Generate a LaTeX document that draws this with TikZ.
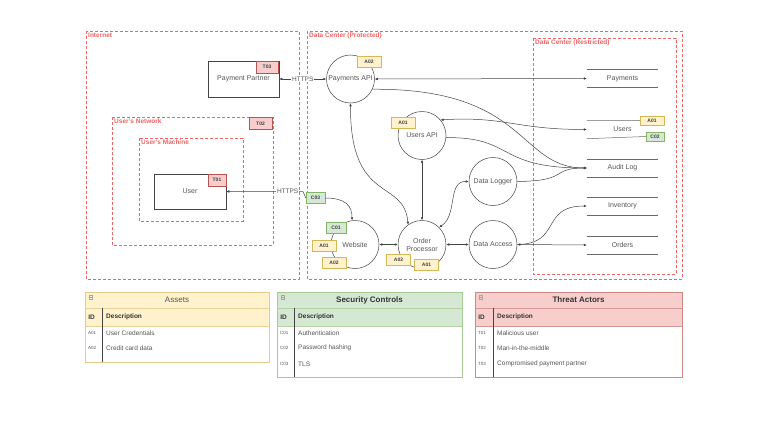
\documentclass[tikz,border=0pt]{standalone}
\usepackage{fontspec}
\setmainfont{Liberation Sans}
\usetikzlibrary{arrows.meta,shadows}
\definecolor{bnd}{HTML}{F06464}
\definecolor{ln}{HTML}{444444}
\definecolor{txt}{HTML}{555555}
\definecolor{yf}{HTML}{FFF2CC}\definecolor{yd}{HTML}{D6B656}
\definecolor{gf}{HTML}{D5E8D4}\definecolor{gd}{HTML}{82B366}
\definecolor{rf}{HTML}{F8CECC}\definecolor{rd}{HTML}{B85450}
\begin{document}
\begin{tikzpicture}[x=1pt,y=-1pt,
 boundary/.style={draw=bnd, dash pattern=on 3pt off 2pt, line width=0.7pt},
 blabel/.style={text=bnd, font=\bfseries\fontsize{6.5}{7}\selectfont, anchor=north west, inner sep=1pt},
 proc/.style={circle, draw=ln, fill=white, line width=0.5pt, minimum size=48pt, inner sep=0pt, text=txt, font=\fontsize{7}{8}\selectfont, align=center},
 extbox/.style={rectangle, draw=ln, fill=white, line width=0.5pt, inner sep=0pt, text=txt, font=\fontsize{7}{8}\selectfont},
 store/.style={rectangle, minimum width=71pt, minimum height=18pt, inner sep=0pt, text=txt, font=\fontsize{7}{8}\selectfont},
 tag/.style={rectangle, minimum width=24pt, minimum height=11pt, inner sep=0pt, line width=0.4pt, text=black!75, font=\bfseries\fontsize{5}{6}\selectfont, drop shadow={opacity=0.25, shadow xshift=0.8pt, shadow yshift=-0.8pt}},
 ytag/.style={tag, fill=yf, draw=yd},
 gtag/.style={tag, fill=gf, draw=gd},
 rtag/.style={tag, fill=rf, draw=rd},
 lab/.style={fill=white, inner sep=0.8pt, text=txt, font=\fontsize{6.5}{7}\selectfont},
 arr/.style={draw=ln, line width=0.5pt, -{Latex[length=3pt,width=2.6pt]}},
 arr2/.style={draw=ln, line width=0.5pt, {Latex[length=3pt,width=2.6pt]}-{Latex[length=3pt,width=2.6pt]}},
 thead/.style={font=\fontsize{8}{9}\selectfont},
 tcol/.style={font=\bfseries\fontsize{6.5}{7}\selectfont, text=black!80, inner sep=0pt},
 tid/.style={font=\fontsize{4.5}{5}\selectfont, text=txt, anchor=west, inner sep=0pt},
 tdesc/.style={font=\fontsize{6.5}{7}\selectfont, text=txt, anchor=west, inner sep=0pt},
]
\useasboundingbox (0,0) rectangle (768,423);
\fill[white] (0,0) rectangle (768,423);

% boundaries
\draw[boundary] (86,31) rectangle (299,279);
\draw[boundary] (112,117) rectangle (273,245);
\draw[boundary] (139,138) rectangle (243,221);
\draw[boundary] (307,31) rectangle (682,279);
\draw[boundary] (533,38) rectangle (676,274);
\node[blabel] (lint) at (87,32) {Internet};
\node[blabel] (lnet) at (113,118) {User's Network};
\node[blabel] (lmac) at (140,139) {User's Machine};
\node[blabel] (ldcp) at (308,32) {Data Center (Protected)};
\node[blabel] (ldcr) at (534,39) {Data Center (Restricted)};

% external entities
\node[extbox, minimum width=71pt, minimum height=36pt] (pp) at (243.5,79) {Payment Partner};
\node[extbox, minimum width=72pt, minimum height=35pt] (user) at (190,191.5) {User};

% processes
\node[proc] (papi) at (350.5,79) {Payments API};
\node[proc] (uapi) at (422,135.5) {Users API};
\node[proc] (dlog) at (493,181.5) {Data Logger};
\node[proc] (web) at (355,244.5) {Website};
\node[proc] (op) at (422,244.5) {Order\\Processor};
\node[proc] (da) at (493,244.5) {Data Access};

% data stores
\node[store] (spay) at (622.5,78.5) {Payments};
\node[store] (susr) at (622.5,129.5) {Users};
\node[store] (saud) at (622.5,168) {Audit Log};
\node[store] (sinv) at (622.5,206) {Inventory};
\node[store] (sord) at (622.5,245) {Orders};
\foreach \s in {spay,saud,sinv,sord}{
  \draw[ln!80, line width=0.5pt] (\s.north west) -- (\s.north east) (\s.south west) -- (\s.south east);
}

% tags
\node[rtag, minimum width=22pt, minimum height=12pt] (t03) at (267,67) {T03};
\node[rtag, minimum width=23pt, minimum height=12pt] (t02) at (260.5,123.5) {T02};
\node[rtag, minimum width=18pt, minimum height=12pt] (t01) at (217,180) {T01};
\node[ytag] (a02p) at (369,62) {A02};
\node[ytag] (a01u) at (403,122.5) {A01};
\node[gtag, minimum width=19pt] (c03) at (315.5,198) {C03};
\node[gtag, minimum width=20pt] (c01) at (336,228) {C01};
\node[ytag] (a01w) at (324,245.5) {A01};
\node[ytag] (a02w) at (334,262.5) {A02};
\node[ytag] (a02o) at (398.5,260) {A02};
\node[ytag] (a01o) at (426.5,265) {A01};
\node[ytag, minimum height=9.5pt] (a01s) at (652,120.5) {A01};
\node[gtag, minimum width=18pt, minimum height=9.5pt] (c02) at (655,136.5) {C02};
\draw[ln!80, line width=0.5pt] (susr.north west) -- (a01s.west) (susr.south west) -- (c02.west);

% flows
\draw[arr2] (pp.east) -- node[lab]{HTTPS} (papi.west);
\draw[arr2] (papi.east) -- (spay.west);
\draw[arr] (papi.-25) .. controls (528,88) and (518,168) .. (saud.west);
\draw[arr2] (uapi.40) .. controls (505,116) and (515,129.5) .. (susr.west);
\draw[arr] (uapi.-5) .. controls (515,137) and (495,168) .. (saud.west);
\draw[arr] (dlog.east) .. controls (570,181) and (550,168) .. (saud.west);
\draw[arr2] (uapi.south) -- (op.north);
\draw[arr2] (papi.south) .. controls (350,205) and (404,178) .. (op.125);
\draw[arr2] (op.45) .. controls (458,215) and (447,181) .. (dlog.west);
\draw[arr2] (web.east) -- (op.west);
\draw[arr2] (op.east) -- (da.west);
\draw[arr2] (da.east) -- (sord.west);
\draw[arr] (da.east) .. controls (562,244) and (540,206) .. (sinv.west);
\draw[arr] (c03.west) -- (303,191.5) -- node[lab, pos=0.2]{HTTPS} (user.east);
\draw[arr] (c03.east) .. controls (346,198) and (352,206) .. (web.97);

% ---------- tables ----------
% Assets
\draw[yd!70, fill=white, line width=0.5pt, drop shadow={opacity=0.2, shadow xshift=1pt, shadow yshift=-1pt}] (85,292) rectangle (269,362);
\fill[yf] (85.3,292.3) rectangle (268.7,326);
\draw[yd!70, line width=0.5pt] (85,292) rectangle (269,362);
\draw[yd!60, line width=0.4pt] (85,308) -- (269,308) (85,326) -- (269,326);
\draw[ln, line width=0.6pt] (102,308) -- (102,362);
\node[draw=gray!70, minimum size=3.5pt, inner sep=0pt] (ia) at (90.5,297) {};
\draw[gray!70, line width=0.4pt] (ia.west) -- (ia.east);
\node[thead, text=txt] (ha) at (177,300) {Assets};
\node[tcol] (ida) at (91.5,317) {ID};
\node[tcol, anchor=west] (dsa) at (106,317) {Description};
\node[tid] (ra1) at (88,333) {A01};
\node[tdesc] (da1) at (106,333) {User Credentials};
\node[tid] (ra2) at (88,348) {A02};
\node[tdesc] (da2) at (106,348) {Credit card data};

% Security Controls
\draw[gd!70, fill=white, line width=0.5pt, drop shadow={opacity=0.2, shadow xshift=1pt, shadow yshift=-1pt}] (277,292) rectangle (462,377);
\fill[gf] (277.3,292.3) rectangle (461.7,326);
\draw[gd!70, line width=0.5pt] (277,292) rectangle (462,377);
\draw[gd!60, line width=0.4pt] (277,308) -- (462,308) (277,326) -- (462,326);
\draw[ln, line width=0.6pt] (294,308) -- (294,377);
\node[draw=gray!70, minimum size=3.5pt, inner sep=0pt] (ic) at (282.5,297) {};
\draw[gray!70, line width=0.4pt] (ic.west) -- (ic.east);
\node[thead, font=\bfseries\fontsize{8}{9}\selectfont, text=black!80] (hc) at (369.5,300) {Security Controls};
\node[tcol] (idc) at (283.5,317) {ID};
\node[tcol, anchor=west] (dsc) at (298,317) {Description};
\node[tid] (rc1) at (280,333) {C01};
\node[tdesc] (dc1) at (298,333) {Authentication};
\node[tid] (rc2) at (280,348) {C02};
\node[tdesc] (dc2) at (298,348) {Password hashing};
\node[tid] (rc3) at (280,364) {C03};
\node[tdesc] (dc3) at (298,364) {TLS};

% Threat Actors
\draw[rd!70, fill=white, line width=0.5pt, drop shadow={opacity=0.2, shadow xshift=1pt, shadow yshift=-1pt}] (475,292) rectangle (682,377);
\fill[rf] (475.3,292.3) rectangle (681.7,326);
\draw[rd!70, line width=0.5pt] (475,292) rectangle (682,377);
\draw[rd!60, line width=0.4pt] (475,308) -- (682,308) (475,326) -- (682,326);
\draw[ln, line width=0.6pt] (493,308) -- (493,377);
\node[draw=gray!70, minimum size=3.5pt, inner sep=0pt] (it) at (480.5,297) {};
\draw[gray!70, line width=0.4pt] (it.west) -- (it.east);
\node[thead, font=\bfseries\fontsize{8}{9}\selectfont, text=black!80] (ht) at (578.5,300) {Threat Actors};
\node[tcol] (idt) at (481.5,317) {ID};
\node[tcol, anchor=west] (dst) at (497,317) {Description};
\node[tid] (rt1) at (478,333) {T01};
\node[tdesc] (dt1) at (497,333) {Malicious user};
\node[tid] (rt2) at (478,348) {T02};
\node[tdesc] (dt2) at (497,348) {Man-in-the-middle};
\node[tid] (rt3) at (478,364) {T03};
\node[tdesc] (dt3) at (497,364) {Compromised payment partner};
\end{tikzpicture}
\end{document}
